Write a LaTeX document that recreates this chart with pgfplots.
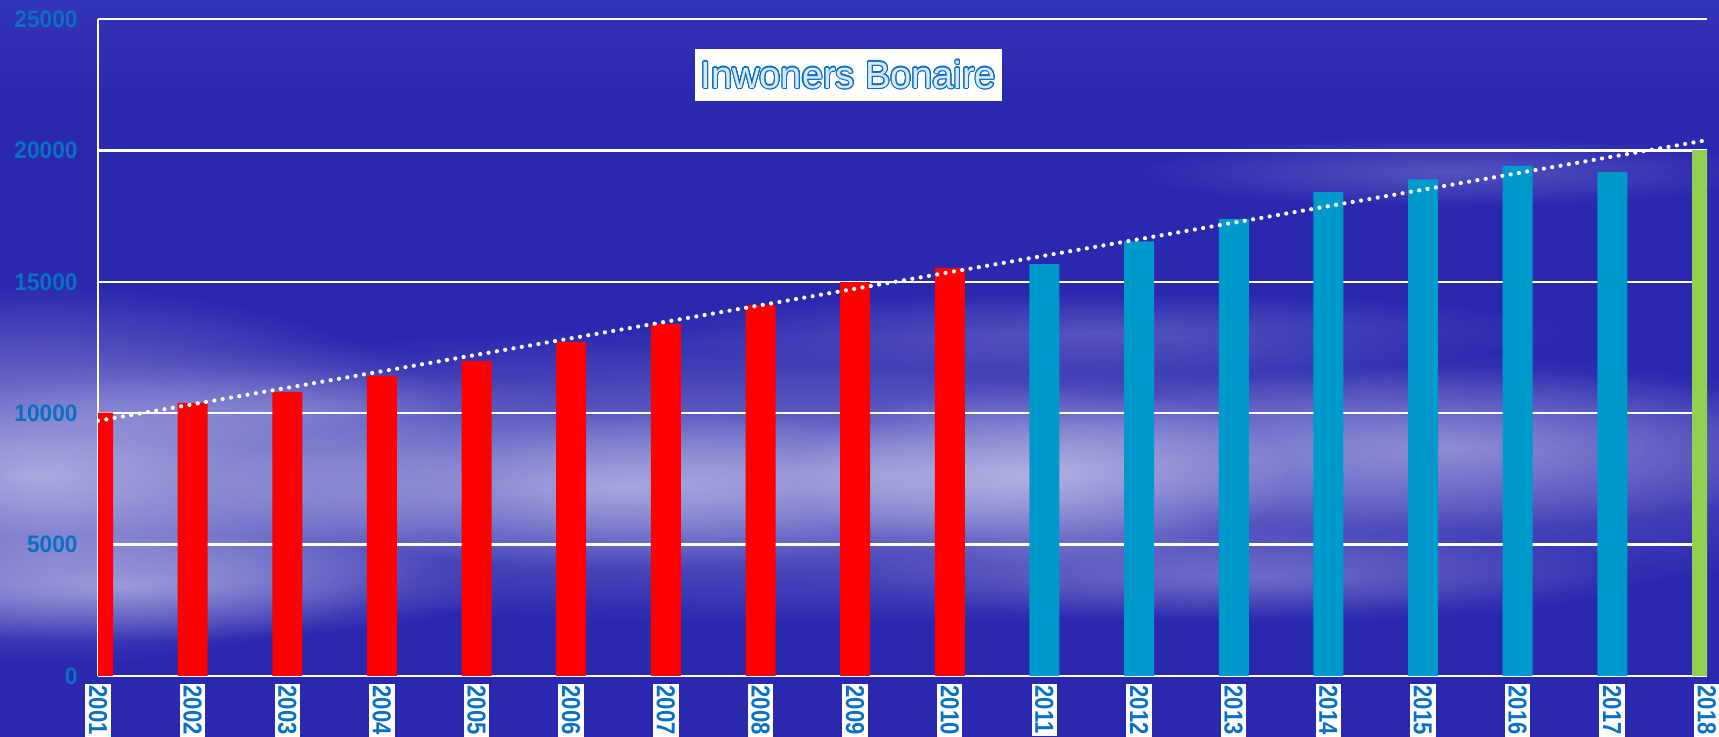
\documentclass[border=0pt]{standalone}
\usepackage{pgfplots}
\pgfplotsset{compat=1.18}
\usepackage{fontspec}
\setmainfont{Liberation Sans}
\usepackage{contour}
\contourlength{0.3pt}
\contournumber{20}
\usetikzlibrary{fadings}
\definecolor{bg}{RGB}{42,40,175}
\definecolor{bgtop}{RGB}{52,52,184}
\definecolor{lbl}{RGB}{10,112,196}
\definecolor{ttlfill}{RGB}{215,232,248}
\definecolor{barred}{RGB}{255,0,0}
\definecolor{barteal}{RGB}{0,153,204}
\definecolor{bargreen}{RGB}{146,208,80}
\tikzfading[name=soft, inner color=transparent!0, outer color=transparent!100]

\begin{document}
\begin{tikzpicture}
\useasboundingbox (0,0) rectangle (171.9mm,73.7mm);
\clip (0,0) rectangle (171.9mm,73.7mm);
\fill[bg] (0,0) rectangle (171.9mm,73.7mm);
\shade[top color=bgtop, bottom color=bg] (0,64mm) rectangle (171.9mm,73.7mm);
% soft cloud streaks (background decoration)
\begin{scope}[x=0.1mm,y=0.1mm]
\fill[white, opacity=0.40, path fading=soft] (860,262) ellipse (1150 and 150);
\fill[white, opacity=0.55, path fading=soft] (40,262) ellipse (450 and 190);
\fill[white, opacity=0.40, path fading=soft] (120,150) ellipse (380 and 55);
\fill[white, opacity=0.40, path fading=soft] (620,250) ellipse (420 and 80);
\fill[white, opacity=0.45, path fading=soft] (1040,262) ellipse (250 and 90);
\fill[white, opacity=0.35, path fading=soft] (1450,290) ellipse (420 and 80);
\fill[white, opacity=0.25, path fading=soft] (1250,160) ellipse (400 and 45);
\fill[white, opacity=0.20, path fading=soft] (1100,405) ellipse (480 and 40);
\fill[white, opacity=0.20, path fading=soft] (1450,565) ellipse (320 and 35);
\fill[white, opacity=0.15, path fading=soft] (300,330) ellipse (300 and 40);
\end{scope}
\begin{axis}[
  at={(9.8mm,6.1mm)}, anchor=south west,
  width=160.9mm, height=65.7mm, scale only axis,
  xmin=2001, xmax=2018, ymin=0, ymax=25000,
  scaled y ticks=false,
  /pgf/number format/1000 sep={},
  /pgf/number format/assume math mode=true,
  xtick={2001,2002,...,2018},
  xticklabels={2001,2002,2003,2004,2005,2006,2007,2008,2009,2010,2011,2012,2013,2014,2015,2016,2017,2018},
  ytick={0,5000,10000,15000,20000,25000},
  yticklabels={0,5000,10000,15000,20000,25000},
  axis x line*=bottom, axis y line*=left,
  axis line style={-, white, line width=0.7pt},
  major tick length=0pt,
  ymajorgrids, grid style={white, line width=0.7pt},
  y tick label style={text=lbl, font=\bfseries\fontsize{6.8}{8}\selectfont\addfontfeature{FakeStretch=0.95}, xshift=-0.8mm},
  x tick label style={yshift=-0.7mm, rotate=-90, anchor=west, fill=white, text=lbl,
     font=\bfseries\fontsize{7.4}{8}\selectfont\addfontfeature{FakeStretch=0.85}, inner xsep=0.2mm, inner ysep=0.35mm},
]
\addplot[ybar, bar width=3mm, bar shift=0pt, fill=barred, draw=none] coordinates {
 (2001,10020) (2002,10390) (2003,10810) (2004,11420) (2005,11990)
 (2006,12710) (2007,13390) (2008,14110) (2009,14990) (2010,15530)};
\addplot[ybar, bar width=3mm, bar shift=0pt, fill=barteal, draw=none] coordinates {
 (2011,15670) (2012,16540) (2013,17390) (2014,18420) (2015,18900)
 (2016,19420) (2017,19180)};
\addplot[ybar, bar width=3mm, bar shift=0pt, fill=bargreen, draw=none] coordinates {
 (2018,20030)};
\addplot[white, line width=1.2pt, line cap=round, dash pattern=on 0pt off 2.4pt] coordinates {
 (2001,9710) (2018,20390)};
\node[fill=white, font=\fontsize{10.8}{12}\selectfont, minimum width=30.7mm,
  minimum height=5.2mm, inner sep=0pt] at (rel axis cs:0.4664,0.9148)
  {\contour{lbl}{\textcolor{ttlfill}{Inwoners Bonaire}}};
\end{axis}
\end{tikzpicture}
\end{document}
